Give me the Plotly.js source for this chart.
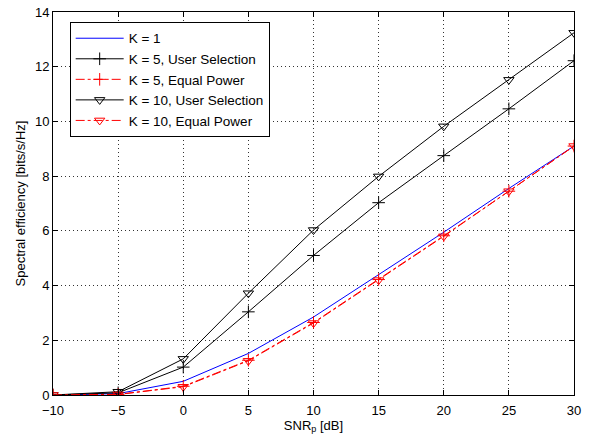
<!DOCTYPE html>
<html><head><meta charset="utf-8">
<script src="https://cdn.plot.ly/plotly-3.0.1.min.js"></script>
<style>body{margin:0;padding:0;background:#fff}#chart{width:591px;height:436px}</style>
</head><body><div id="chart"></div>
<script>
var snr = [-10, -5, 0, 5, 10, 15, 20, 25, 30];
var k1 = [0, 0.05, 0.5, 1.52, 2.85, 4.4, 5.95, 7.55, 9.1];
var k5US = [0, 0.08, 1.02, 3.04, 5.1, 7.03, 8.75, 10.46, 12.22];
var k5EP = [0, 0.02, 0.32, 1.27, 2.65, 4.22, 5.82, 7.45, 9.1];
var k10US = [0, 0.12, 1.32, 3.72, 6.03, 7.99, 9.82, 11.52, 13.24];
var k10EP = [0, 0.02, 0.3, 1.25, 2.63, 4.2, 5.8, 7.45, 9.1];
var names = ['K = 1', 'K = 5, User Selection', 'K = 5, Equal Power', 'K = 10, User Selection', 'K = 10, Equal Power'];
var xTicks = [-10, -5, 0, 5, 10, 15, 20, 25, 30];
var xTickText = ['\u221210', '\u22125', '0', '5', '10', '15', '20', '25', '30'];
var yTicks = [0, 2, 4, 6, 8, 10, 12, 14];

var traces = [
  {x: snr, y: k1, name: names[0], mode: 'lines', line: {color: '#0000ff', width: 1}},
  {x: snr, y: k5US, name: names[1], mode: 'lines+markers', line: {color: '#000', width: 1},
   marker: {symbol: 'cross-thin-open', size: 9, line: {color: '#000', width: 1}}},
  {x: snr, y: k5EP, name: names[2], mode: 'lines+markers', line: {color: '#ff0000', width: 1, dash: 'dashdot'},
   marker: {symbol: 'cross-thin-open', size: 9, line: {color: '#ff0000', width: 1}}},
  {x: snr, y: k10US, name: names[3], mode: 'lines+markers', line: {color: '#000', width: 1},
   marker: {symbol: 'triangle-down-open', size: 9, color: '#000', line: {color: '#000', width: 1}}},
  {x: snr, y: k10EP, name: names[4], mode: 'lines+markers', line: {color: '#ff0000', width: 1, dash: 'dashdot'},
   marker: {symbol: 'triangle-down-open', size: 9, color: '#ff0000', line: {color: '#ff0000', width: 1}}}
];

var axisCommon = {
  showline: true, linecolor: '#000', linewidth: 1, mirror: 'allticks',
  ticks: 'inside', ticklen: 5, tickcolor: '#000', tickwidth: 1,
  showgrid: true, gridcolor: '#333', griddash: '1px,3px', gridwidth: 1,
  zeroline: false, tickfont: {size: 13, color: '#000'}
};

var layout = {
  width: 591, height: 436,
  margin: {l: 53, r: 17, t: 12, b: 41},
  paper_bgcolor: '#fff', plot_bgcolor: '#fff',
  font: {family: 'Liberation Sans, Arial, sans-serif', size: 13, color: '#000'},
  xaxis: Object.assign({}, axisCommon, {range: [-10, 30], tickvals: xTicks, ticktext: xTickText,
    ticklabelstandoff: 3,
    title: {text: 'SNR<sub>p</sub> [dB]', standoff: 2, font: {size: 13}}}),
  yaxis: Object.assign({}, axisCommon, {range: [0, 14], tickvals: yTicks,
    title: {text: 'Spectral efficiency [bits/s/Hz]', standoff: 6, font: {size: 13}}}),
  showlegend: true,
  legend: {x: 0.032, y: 0.974, xanchor: 'left', yanchor: 'top', bgcolor: '#fff',
    bordercolor: '#000', borderwidth: 1, font: {size: 13.5}, tracegroupgap: 0, itemwidth: 48}
};

Plotly.newPlot('chart', traces, layout, {displayModeBar: false, staticPlot: true});
</script></body></html>
